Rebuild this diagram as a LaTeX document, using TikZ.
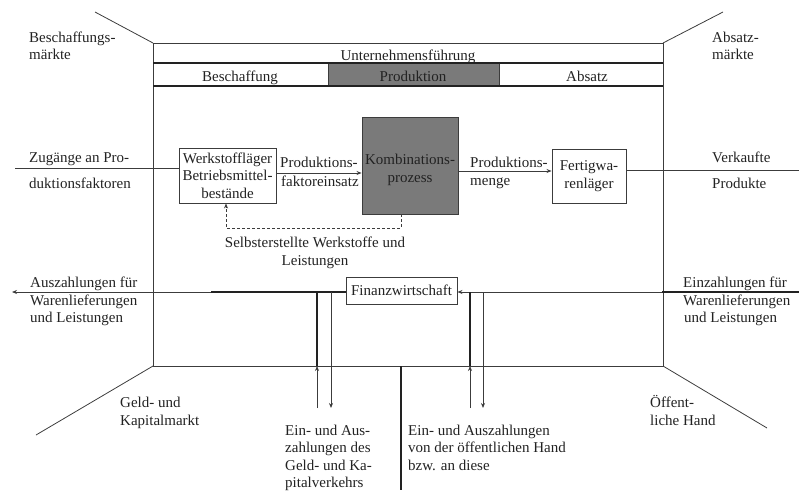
\documentclass[tikz,border=0pt]{standalone}
\usepackage{fontspec}
\setmainfont{Liberation Serif}
\usetikzlibrary{arrows.meta}
\definecolor{ink}{HTML}{222222}
\definecolor{frame}{HTML}{3C3C3C}
\definecolor{cellgray}{HTML}{7A7A7A}
\begin{document}
\begin{tikzpicture}[x=1pt,y=-1pt,
  thinln/.style={draw=frame,line width=0.8pt},
  thickln/.style={draw=ink,line width=1.7pt},
  tip/.style={-{Stealth[length=5pt,width=4pt]}},
  lbl/.style={inner sep=0pt,text=ink,font=\fontsize{15}{18}\selectfont},
  boxn/.style={draw=frame,line width=0.9pt,fill=white,inner sep=0pt,align=center,
    text=ink,font=\fontsize{15}{17.5}\selectfont}]
\useasboundingbox (0,0) rectangle (799,490);

% company frame and its perspective edges
\draw[thinln] (153,43) rectangle (663,366);
\draw[thinln] (95,12) -- (153,43);
\draw[thinln] (663,43) -- (723,12);
\draw[thinln] (153,366) -- (36,435);
\draw[thinln] (663,366) -- (767,428);

% management strip
\fill[cellgray] (328,63) rectangle (499,86);
\draw[thinln] (328,63) -- (328,86);
\draw[thinln] (499,63) -- (499,86);
\draw[ink,line width=1.1pt] (153,63) -- (663,63);
\draw[ink,line width=1.5pt] (153,86) -- (663,86);
\node[lbl,anchor=base] (fuehrung) at (408,60) {Unternehmensführung};
\node[lbl,anchor=base] (besch) at (240,81) {Beschaffung};
\node[lbl,anchor=base] (prod) at (413,81) {Produktion};
\node[lbl,anchor=base] (abs) at (587,81) {Absatz};

% corner labels
\node[lbl,anchor=base west] (bm1) at (29,42) {Beschaffungs-};
\node[lbl,anchor=base west] (bm2) at (29,59) {märkte};
\node[lbl,anchor=base west] (am1) at (712,42) {Absatz-};
\node[lbl,anchor=base west] (am2) at (712,59) {märkte};
\node[lbl,anchor=base west] (gk1) at (120,407) {Geld- und};
\node[lbl,anchor=base west] (gk2) at (120,425) {Kapitalmarkt};
\node[lbl,anchor=base west] (oh1) at (650,407) {Öffent-};
\node[lbl,anchor=base west] (oh2) at (650,425) {liche Hand};

% production boxes
\node[boxn,minimum width=97pt,minimum height=55pt] (werk) at (227.5,175.5)
  {Werkstoffläger\\Betriebsmittel-\\bestände};
\node[boxn,fill=cellgray,minimum width=96pt,minimum height=97pt] (kombi) at (410,165.5) {};
\node[lbl,align=center] (kombitxt) at (410,170)
  {Kombinations-\\prozess};
\node[boxn,minimum width=74pt,minimum height=54pt] (fert) at (589,176)
  {Fertigwa-\\renläger};

% goods flow
\coordinate (zin) at (15,168);
\draw[thinln] (zin) -- (zin -| werk.west);
\node[lbl,anchor=base west] (zug1) at (29,162) {Zugänge an Pro-};
\node[lbl,anchor=base west] (zug2) at (29,188) {duktionsfaktoren};

\coordinate (y1) at (0,173);
\draw[thinln,tip] (y1 -| werk.east) -- (y1 -| kombi.west);
\node[lbl,anchor=base west] (pf1) at (280,167) {Produktions-};
\node[lbl,anchor=base west] (pf2) at (281,186) {faktoreinsatz};

\coordinate (y2) at (0,171);
\draw[thinln,tip] (y2 -| kombi.east) -- (y2 -| fert.west);
\node[lbl,anchor=base west] (pm1) at (470,167) {Produktions-};
\node[lbl,anchor=base west] (pm2) at (470,185) {menge};

\coordinate (vout) at (799,170);
\draw[thinln] (fert.east |- vout) -- (vout);
\node[lbl,anchor=base west] (vk1) at (712,162) {Verkaufte};
\node[lbl,anchor=base west] (vk2) at (712,188) {Produkte};

% internally produced goods (dashed feedback)
\draw[frame,line width=0.8pt,dashed,dash pattern=on 3pt off 2pt,tip]
  (kombi.south -| 401,0) -- (401,228) -- (226,228) -- (werk.south -| 226,0);
\node[lbl,anchor=base] (se1) at (315,247) {Selbsterstellte Werkstoffe und};
\node[lbl,anchor=base] (se2) at (315,265) {Leistungen};

% financial flows
\node[boxn,minimum width=111pt,minimum height=27pt] (fin) at (401.5,290.5) {Finanzwirtschaft};
\coordinate (fl) at (12,292);
\coordinate (fr) at (799,292);
\draw[thinln,tip] (fin.west |- fl) -- (fl);
\draw[thickln] (211,292) -- (fin.west |- fl);
\draw[thinln,tip] (fr) -- (fin.east |- fr);
\draw[thickln] (662,292) -- (fr);

\node[lbl,anchor=base west] (az1) at (30,287) {Auszahlungen für};
\node[lbl,anchor=base west] (az2) at (30,305) {Warenlieferungen};
\node[lbl,anchor=base west] (az3) at (30,322) {und Leistungen};
\node[lbl,anchor=base west] (ez1) at (683,287) {Einzahlungen für};
\node[lbl,anchor=base west] (ez2) at (683,305) {Warenlieferungen};
\node[lbl,anchor=base west] (ez3) at (684,322) {und Leistungen};

% capital market pair
\draw[thickln] (317,292) -- (317,366);
\draw[thinln,tip] (317,408) -- (317,366);
\draw[thinln,tip] (331,292) -- (331,408);
% public sector pair
\draw[thickln] (470,292) -- (470,366);
\draw[thinln,tip] (470,408) -- (470,366);
\draw[thinln,tip] (483,292) -- (483,408);
% divider below the frame
\draw[thickln] (401,366) -- (401,490);

\node[lbl,anchor=base west] (gv1) at (285,435) {Ein- und Aus-};
\node[lbl,anchor=base west] (gv2) at (285,452) {zahlungen des};
\node[lbl,anchor=base west] (gv3) at (285,470) {Geld- und Ka-};
\node[lbl,anchor=base west] (gv4) at (285,487) {pitalverkehrs};
\node[lbl,anchor=base west] (oe1) at (408,435) {Ein- und Auszahlungen};
\node[lbl,anchor=base west] (oe2) at (408,452) {von der öffentlichen Hand};
\node[lbl,anchor=base west] (oe3) at (408,470) {bzw. an diese};
\end{tikzpicture}
\end{document}
